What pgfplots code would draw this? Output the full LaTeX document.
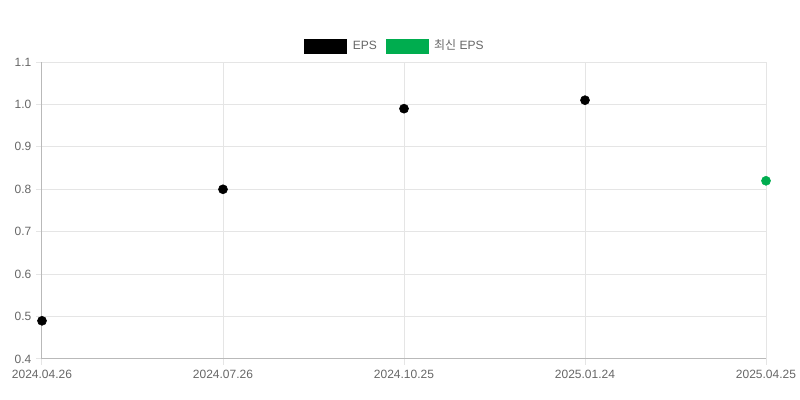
\documentclass[border=0pt]{standalone}
\usepackage{fontspec}
\setmainfont{Liberation Sans}
\newfontfamily\kr{Noto Sans CJK KR}
\usepackage{pgfplots}
\pgfplotsset{compat=1.18}
\definecolor{epsgreen}{RGB}{0,173,79}
\definecolor{gridc}{RGB}{229,229,229}
\definecolor{axisc}{RGB}{185,185,185}
\definecolor{txt}{RGB}{102,102,102}

\begin{document}
\begin{tikzpicture}
\useasboundingbox (0pt,0pt) rectangle (600pt,300pt);
\begin{axis}[
  at={(31.5pt,30.75pt)}, anchor=south west,
  scale only axis, width=543pt, height=222.75pt,
  xmin=0, xmax=4, ymin=0.4, ymax=1.1,
  xtick={0,1,2,3,4},
  xticklabels={2024.04.26,2024.07.26,2024.10.25,2025.01.24,2025.04.25},
  ytick={0.4,0.5,0.6,0.7,0.8,0.9,1.0,1.1},
  yticklabel style={/pgf/number format/.cd,fixed,fixed zerofill,precision=1},
  /pgf/number format/assume math mode=true,
  grid=major,
  major grid style={gridc, line width=0.75pt},
  axis x line*=bottom, axis y line*=left,
  axis line style={axisc, line width=0.75pt, -},
  tick align=outside, major tick length=4.5pt,
  tick style={gridc, line width=0.75pt},
  ticklabel style={font=\fontsize{9}{11}\selectfont, text=txt},
  clip=false,
  legend style={at={(0.488,1.054)}, anchor=center, draw=none, fill=none,
    font=\fontsize{9}{11}\selectfont, text=txt,
    legend columns=-1,
    /tikz/every odd column/.append style={column sep=2.5pt},
    /tikz/every even column/.append style={column sep=4.5pt}},
]
\addplot[only marks, mark=*, mark size=3.4pt, black,
  legend image code/.code={\fill[black] (0pt,-5.25pt) rectangle (31.5pt,5.25pt);}]
  coordinates {(0,0.49) (1,0.80) (2,0.99) (3,1.01)};
\addlegendentry{EPS}
\addplot[only marks, mark=*, mark size=3.4pt, epsgreen,
  legend image code/.code={\fill[epsgreen] (0pt,-5.25pt) rectangle (31.5pt,5.25pt);}]
  coordinates {(4,0.82)};
\addlegendentry{{\kr 최신} EPS}
\end{axis}
\end{tikzpicture}
\end{document}
